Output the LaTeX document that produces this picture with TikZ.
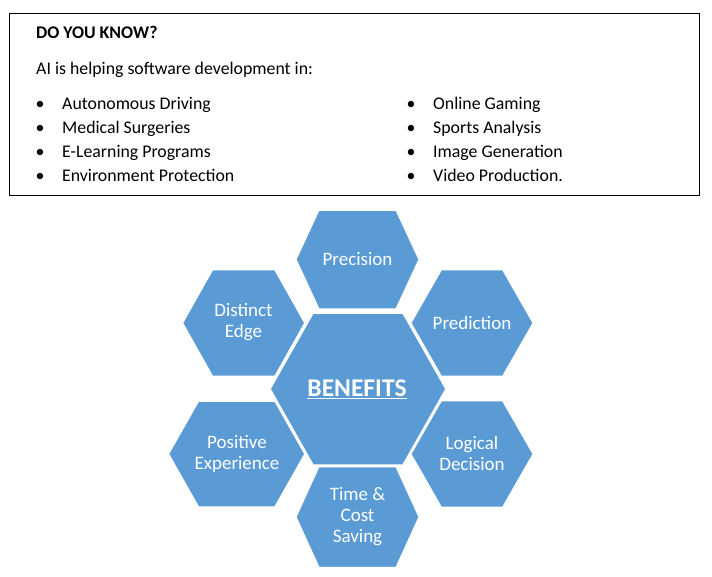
\documentclass[tikz,border=0pt]{standalone}
\usepackage{fontspec}
\setmainfont{Carlito}
\definecolor{hexblue}{HTML}{5B9BD5}
\newcommand{\hexpath}[5]{(#1-#4,#2-#5) -- (#1+#4,#2-#5) -- (#1+#3,#2) -- (#1+#4,#2+#5) -- (#1-#4,#2+#5) -- (#1-#3,#2) -- cycle}
\begin{document}
\begin{tikzpicture}[x=1pt,y=-1pt,
  hexshape/.style={fill=hexblue,draw=white,line width=1.5pt,line join=miter},
  hextext/.style={text=white,align=center,font=\fontsize{19}{21}\selectfont,inner sep=0pt},
  txt/.style={anchor=base west,inner sep=0pt,font=\fontsize{17.8}{21}\selectfont},
  bul/.style={anchor=base,inner sep=0pt,font=\fontsize{17.8}{21}\selectfont}]
\useasboundingbox (0,0) rectangle (712,576);
\fill[white] (0,0) rectangle (712,576);
% info box
\draw[line width=1pt] (9,13) rectangle (699,195);
\node[txt,font=\fontsize{17.8}{21}\selectfont\bfseries] (title) at (36,38) {DO YOU KNOW?};
\node[txt] (intro) at (36,74) {AI is helping software development in:};
\node[bul] (b1) at (40,109) {•};
\node[txt] (l1) at (62,109) {Autonomous Driving};
\node[bul] (b2) at (40,133) {•};
\node[txt] (l2) at (62,133) {Medical Surgeries};
\node[bul] (b3) at (40,157) {•};
\node[txt] (l3) at (62,157) {E-Learning Programs};
\node[bul] (b4) at (40,181) {•};
\node[txt] (l4) at (62,181) {Environment Protection};
\node[bul] (b5) at (411,109) {•};
\node[txt] (r1) at (433,109) {Online Gaming};
\node[bul] (b6) at (411,133) {•};
\node[txt] (r2) at (433,133) {Sports Analysis};
\node[bul] (b7) at (411,157) {•};
\node[txt] (r3) at (433,157) {Image Generation};
\node[bul] (b8) at (411,181) {•};
\node[txt] (r4) at (433,181) {Video Production.};
% hexagons
\path[hexshape] \hexpath{357.5}{259.5}{61.7}{38.7}{49.5};
\path[hexshape] \hexpath{472}{323}{61.3}{30.8}{53.3};
\path[hexshape] \hexpath{472}{454}{61.3}{30.8}{53.3};
\path[hexshape] \hexpath{243.7}{323}{61.3}{31.3}{53.3};
\path[hexshape] \hexpath{236.7}{454}{68.3}{38.3}{53};
\path[hexshape] \hexpath{357.5}{517}{61.7}{38.7}{50.5};
\path[hexshape] \hexpath{358}{389}{88}{45}{76};
\node[hextext] (prec) at (357.5,259) {Precision};
\node[hextext] (pred) at (472,323) {Prediction};
\node[hextext] (logi) at (472,453.5) {Logical\\Decision};
\node[hextext] (dist) at (243.5,322.5) {Distinct\\Edge};
\node[hextext] (posi) at (237,453.5) {Positive\\Experience};
\node[hextext] (time) at (357.5,517) {Time \&\\Cost\\Saving};
\node[hextext,font=\fontsize{25.5}{28}\selectfont\bfseries] (bene) at (357,389) {\underline{BENEFITS}};
\end{tikzpicture}
\end{document}
